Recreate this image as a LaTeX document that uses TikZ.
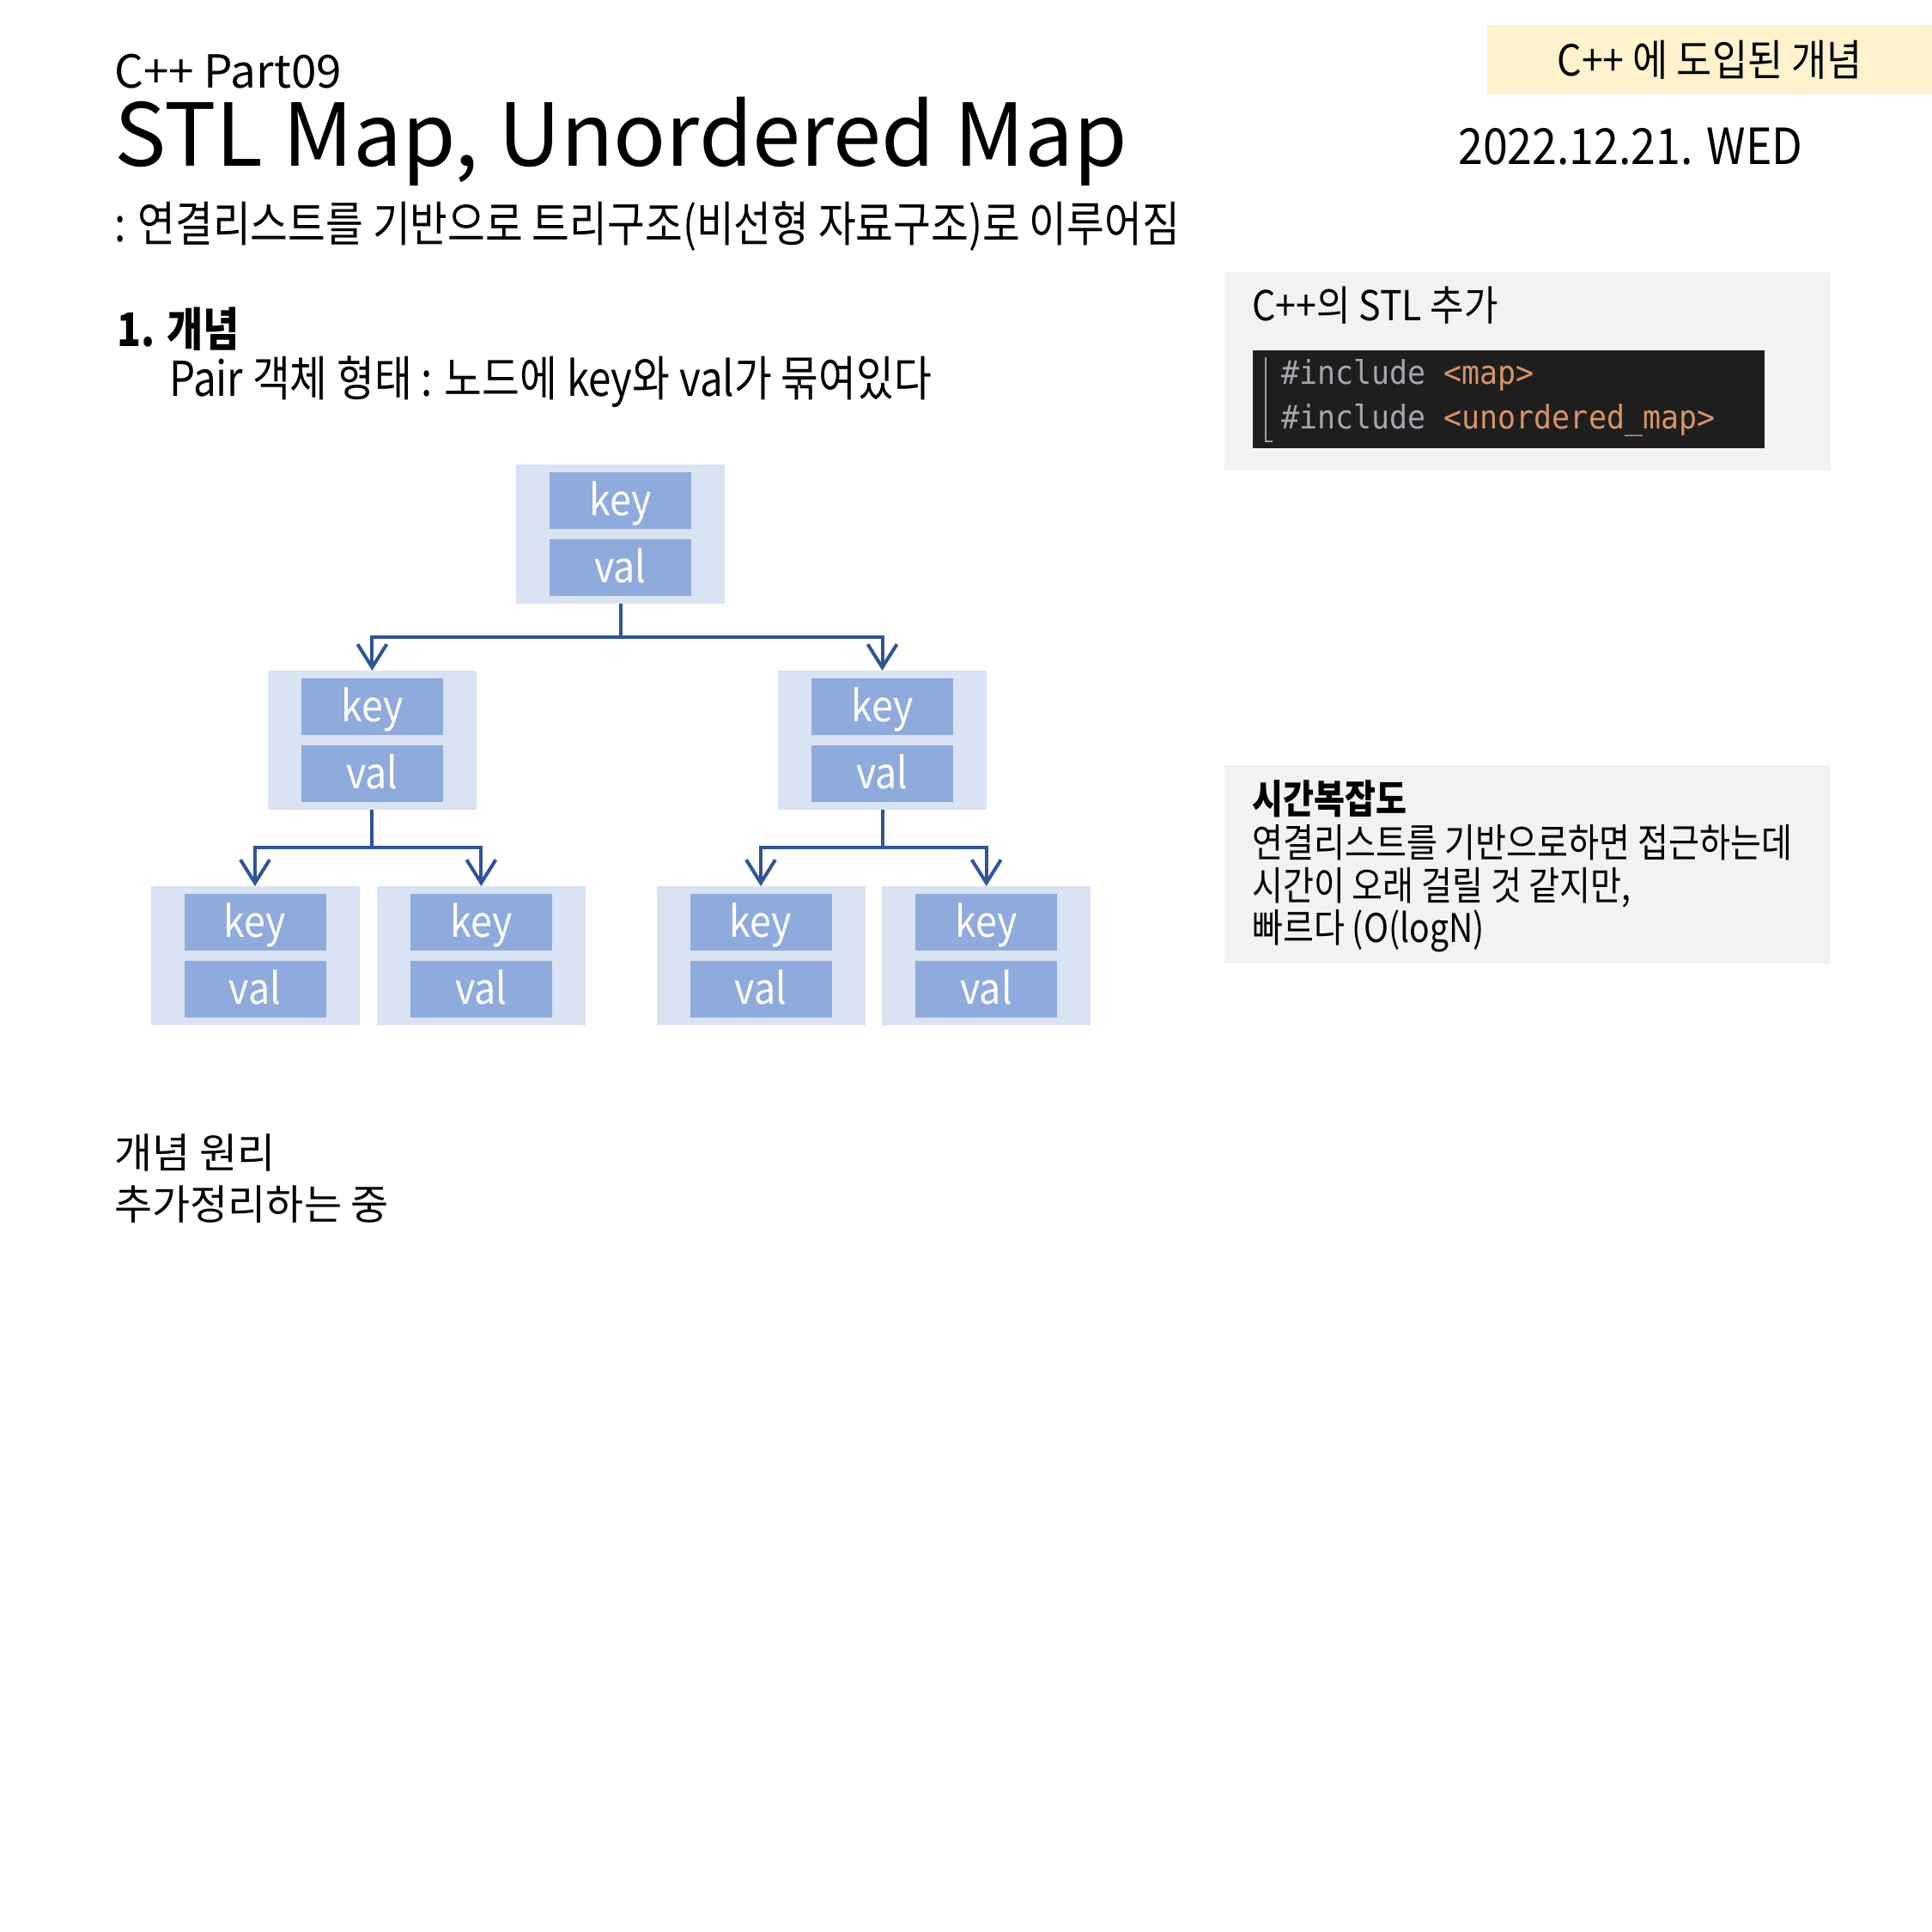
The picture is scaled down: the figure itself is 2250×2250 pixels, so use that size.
\documentclass[tikz,border=0pt]{standalone}
\usepackage{fontspec}
\usepackage{graphicx}
\setmainfont{Noto Sans CJK KR}
\newfontfamily\narA{Noto Sans CJK KR}[FakeStretch=0.85]
\newfontfamily\narB{Noto Sans CJK KR}[FakeStretch=0.895]
\setmonofont{DejaVu Sans Mono}[FakeStretch=0.92]
\usetikzlibrary{arrows.meta}
\newcommand\fsz[1]{\fontsize{#1}{#1}\selectfont}
\definecolor{outerc}{HTML}{DAE3F3}
\definecolor{innerc}{HTML}{8FAADC}
\definecolor{linec}{HTML}{2F5597}
\definecolor{grayc}{HTML}{F2F2F2}
\definecolor{yelc}{HTML}{FFF2CC}
\definecolor{codebg}{HTML}{1E1E1E}
\definecolor{codekw}{HTML}{A3A7AD}
\definecolor{codestr}{HTML}{D7936A}
\tikzset{
  outerbox/.style={fill=outerc, draw=none, minimum width=243pt, minimum height=162pt, inner sep=0pt, anchor=north},
  innerbox/.style={fill=innerc, draw=none, minimum width=165pt, minimum height=66pt, inner sep=0pt,
     text=white, font=\narB\fsz{50}, text height=40pt, text depth=6pt},
  conn/.style={draw=linec, line width=4pt},
  arr/.style={conn, -{Straight Barb[length=27pt,width=34pt,line width=4pt]}},
  txt/.style={anchor=base west, inner sep=0pt, text=black},
  panel/.style={fill=grayc, draw=none, anchor=north west, minimum width=706pt, minimum height=231pt, inner sep=0pt},
}
\begin{document}
\begin{tikzpicture}[x=1pt,y=-1pt]
\useasboundingbox (0,0) rectangle (2250,2250);
\fill[white] (0,0) rectangle (2250,2250);

% header
\node[fill=yelc, anchor=north west, minimum width=518pt, minimum height=81pt, inner sep=0pt,
      font=\narB\fsz{50}] (tag) at (1732,29) {C++ 에 도입된 개념};
\node[txt, font=\narB\fsz{58}] (date) at (1698,192) {2022.12.21. WED};
\node[txt, font=\fsz{53}] (part) at (133,103) {C++ Part09};
\node[txt, font=\fsz{101}] (title) at (133,194) {STL Map, Unordered Map};
\node[txt, font=\narA\fsz{56}] (sub) at (133,281) {: 연결리스트를 기반으로 트리구조(비선형 자료구조)로 이루어짐};
\node[txt, font=\narA\bfseries\fsz{54}] (sec) at (136,403) {1. 개념};
\node[txt, font=\narA\fsz{56}] (pair) at (197,461) {Pair 객체 형태 : 노드에 key와 val가 묶여있다};

% STL panel
\node[panel] (stl) at (1426,317) {};
\node[txt, font=\narB\fsz{48}] (stlt) at (1458,373) {C++의 STL 추가};
\node[fill=codebg, draw=none, anchor=north west, minimum width=596pt, minimum height=114pt, inner sep=0pt] (code) at (1459,408) {};
\draw[draw=gray!75, line width=2pt] (1474,416) -- (1474,514) -- (1482,514);
\node[anchor=west, inner sep=0pt, font=\ttfamily\fsz{38}] (c1) at (1492,437) {\textcolor{codekw}{\#include} \textcolor{codestr}{<map>}};
\node[anchor=west, inner sep=0pt, font=\ttfamily\fsz{38}] (c2) at (1492,489) {\textcolor{codekw}{\#include} \textcolor{codestr}{<unordered\_map>}};

% complexity panel
\node[panel] (cx) at (1426,891) {};
\node[txt, font=\narA\bfseries\fsz{46}] (cx1) at (1458,947) {시간복잡도};
\node[txt, font=\narA\fsz{46}] (cx2) at (1458,998) {연결리스트를 기반으로하면 접근하는데};
\node[txt, font=\narA\fsz{46}] (cx3) at (1458,1048) {시간이 오래 걸릴 것 같지만,};
\node[txt, font=\narA\fsz{46}] (cx4) at (1458,1097) {빠르다 (O(logN)};

% bottom notes
\node[txt, font=\fsz{48}] (n1) at (133,1360) {개념 원리};
\node[txt, font=\fsz{48}] (n2) at (133,1420) {추가정리하는 중};

% tree
\foreach \n/\x/\y in {r/722.5/541, a/433.4/781, b/1027.5/781, aa/297/1032, ab/560.4/1032, ba/886/1032, bb/1148.7/1032} {
  \node[outerbox] (\n) at (\x,\y) {};
  \node[innerbox, anchor=north] (\n k) at ([yshift=-9pt]\n.north) {key};
  \node[innerbox, anchor=south] (\n v) at ([yshift=9pt]\n.south) {val};
}
\coordinate (jr) at (722.5,742);
\coordinate (ja) at (433.4,987);
\coordinate (jb) at (1027.5,987);
\draw[conn] (r.south) -- (jr);
\draw[arr] (jr) -| (a.north);
\draw[arr] (jr) -| (b.north);
\draw[conn] (a.south) -- (ja);
\draw[arr] (ja) -| (aa.north);
\draw[arr] (ja) -| (ab.north);
\draw[conn] (b.south) -- (jb);
\draw[arr] (jb) -| (ba.north);
\draw[arr] (jb) -| (bb.north);
\end{tikzpicture}
\end{document}
